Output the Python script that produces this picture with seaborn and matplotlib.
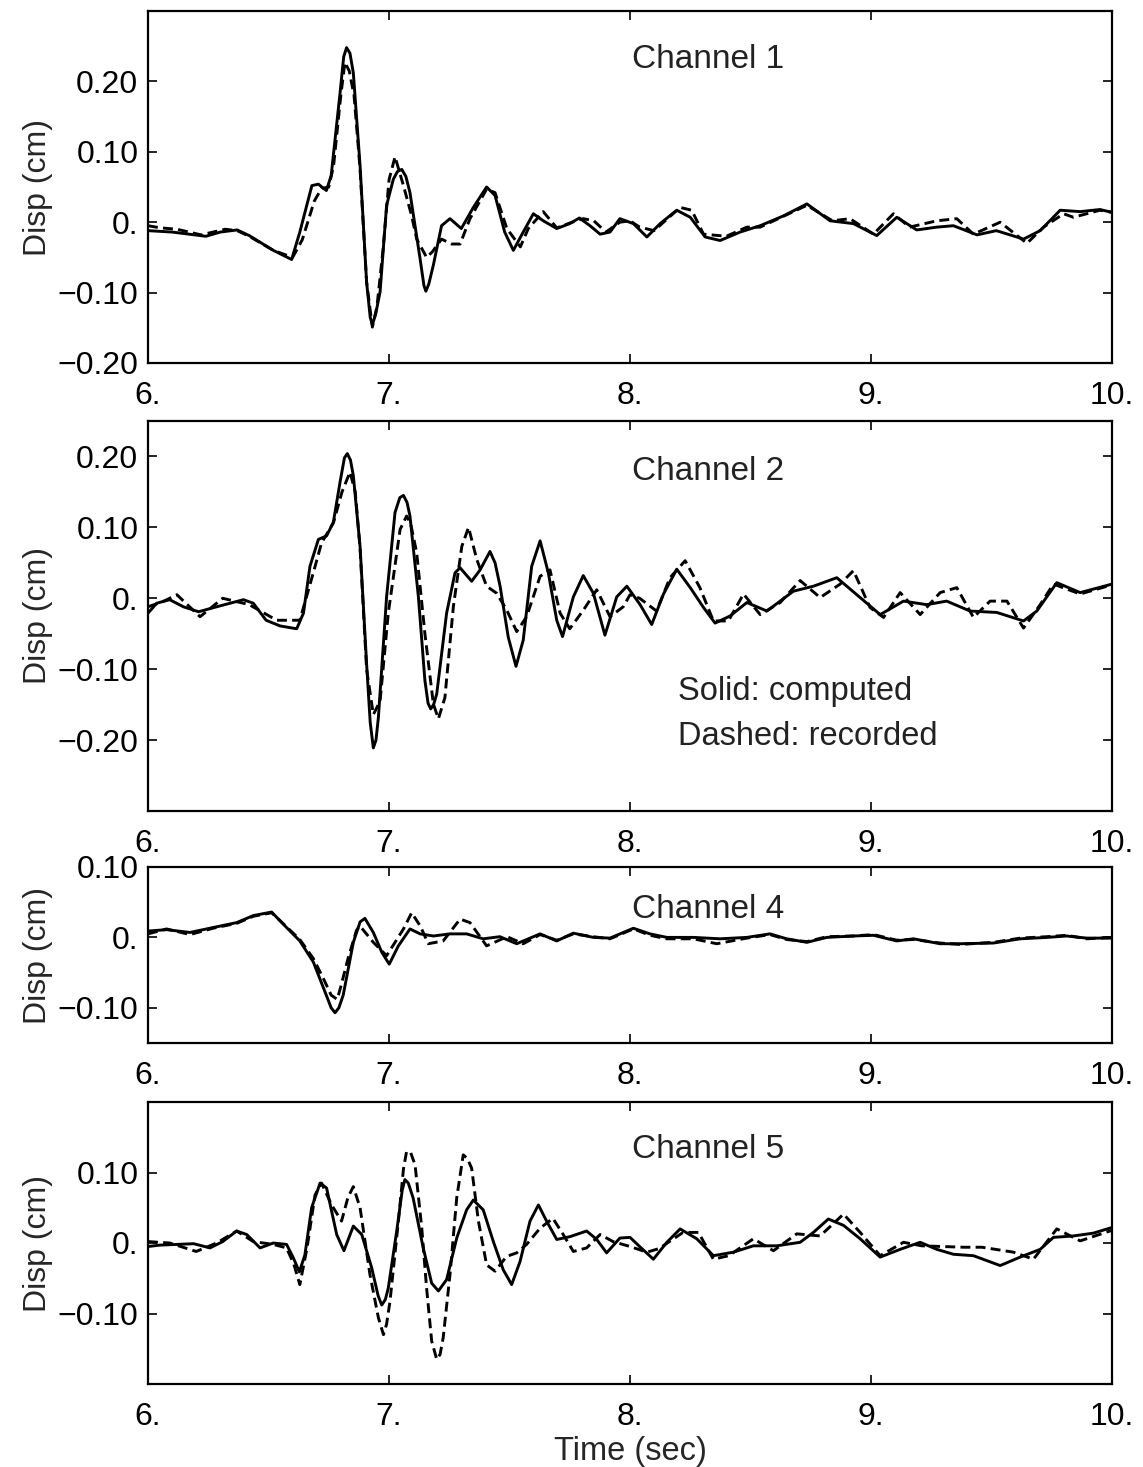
import numpy as np
import pandas as pd
import matplotlib
matplotlib.use("Agg")
import matplotlib.pyplot as plt
import seaborn as sns

ch1_t_comp = [6.00, 6.10, 6.24, 6.30, 6.37, 6.42, 6.52, 6.596, 6.63, 6.68, 6.707, 6.74, 6.76, 6.797, 6.812,
              6.824, 6.838, 6.852, 6.88, 6.907, 6.922, 6.931, 6.945, 6.963, 6.99, 7.018, 7.035, 7.053, 7.07,
              7.087, 7.129, 7.145, 7.153, 7.165, 7.184, 7.218, 7.253, 7.30, 7.35, 7.405, 7.44, 7.48, 7.516,
              7.557, 7.599, 7.64, 7.696, 7.75, 7.79, 7.834, 7.876, 7.917, 7.958, 8.014, 8.07, 8.125, 8.194,
              8.25, 8.312, 8.374, 8.457, 8.54, 8.637, 8.734, 8.83, 8.927, 9.024, 9.107, 9.19, 9.273, 9.342,
              9.44, 9.52, 9.633, 9.702, 9.785, 9.868, 9.95, 10.0]
ch1_comp = [-0.012, -0.014, -0.020, -0.014, -0.011, -0.019, -0.040, -0.053, -0.014, 0.052, 0.054, 0.045, 0.066,
            0.184, 0.235, 0.248, 0.240, 0.212, 0.080, -0.085, -0.135, -0.146, -0.130, -0.099, 0.024, 0.061,
            0.072, 0.075, 0.065, 0.042, -0.052, -0.090, -0.098, -0.088, -0.061, -0.005, 0.005, -0.009, 0.021,
            0.050, 0.038, -0.014, -0.040, -0.014, 0.012, 0.002, -0.009, -0.002, 0.006, -0.005, -0.017, -0.014,
            0.005, -0.002, -0.021, -0.002, 0.017, 0.007, -0.021, -0.026, -0.014, -0.005, 0.009, 0.026, 0.002,
            -0.002, -0.019, 0.007, -0.011, -0.007, -0.005, -0.018, -0.012, -0.024, -0.012, 0.017, 0.015, 0.018,
            0.014]
ch1_t_rec = [6.00, 6.05, 6.12, 6.22, 6.32, 6.37, 6.42, 6.52, 6.60, 6.64, 6.69, 6.72, 6.75, 6.77, 6.80, 6.817,
             6.835, 6.855, 6.88, 6.907, 6.931, 6.95, 6.975, 7.00, 7.025, 7.06, 7.094, 7.115, 7.156, 7.18,
             7.218, 7.26, 7.295, 7.336, 7.405, 7.44, 7.489, 7.545, 7.578, 7.64, 7.696, 7.76, 7.806, 7.85,
             7.90, 7.958, 8.00, 8.04, 8.10, 8.208, 8.256, 8.305, 8.40, 8.485, 8.54, 8.734, 8.84, 8.913, 9.01,
             9.093, 9.16, 9.273, 9.356, 9.425, 9.536, 9.647, 9.716, 9.799, 9.84, 9.95, 10.0]
ch1_rec = [-0.005, -0.008, -0.010, -0.018, -0.010, -0.012, -0.020, -0.040, -0.050, -0.025, 0.030, 0.048, 0.050,
           0.080, 0.180, 0.227, 0.215, 0.180, 0.075, -0.085, -0.149, -0.120, -0.040, 0.060, 0.093, 0.052, 0.009,
           -0.024, -0.050, -0.042, -0.024, -0.031, -0.031, 0.005, 0.047, 0.042, -0.009, -0.035, -0.009, 0.015,
           -0.008, 0.000, 0.005, 0.002, -0.014, 0.000, 0.002, -0.007, -0.012, 0.021, 0.017, -0.017, -0.020,
           -0.007, -0.007, 0.024, 0.002, 0.005, -0.017, 0.012, -0.007, 0.002, 0.005, -0.017, 0.000, -0.030,
           -0.007, 0.012, 0.007, 0.017, 0.014]

ch2_t_comp = [6.00, 6.036, 6.09, 6.147, 6.21, 6.285, 6.396, 6.437, 6.49, 6.548, 6.617, 6.645, 6.672, 6.707,
              6.741, 6.769, 6.797, 6.815, 6.827, 6.84, 6.852, 6.88, 6.907, 6.922, 6.935, 6.946, 6.956, 6.99,
              7.025, 7.045, 7.06, 7.075, 7.087, 7.122, 7.149, 7.162, 7.173, 7.185, 7.198, 7.239, 7.274, 7.295,
              7.343, 7.378, 7.419, 7.44, 7.461, 7.495, 7.527, 7.557, 7.592, 7.627, 7.661, 7.696, 7.72, 7.765,
              7.806, 7.848, 7.896, 7.945, 7.987, 8.042, 8.09, 8.139, 8.194, 8.25, 8.305, 8.353, 8.415, 8.485,
              8.568, 8.678, 8.761, 8.858, 8.955, 9.038, 9.135, 9.231, 9.314, 9.411, 9.522, 9.633, 9.688, 9.771,
              9.868, 10.0]
ch2_comp = [-0.021, -0.007, -0.002, -0.012, -0.019, -0.012, -0.002, -0.007, -0.031, -0.039, -0.043, -0.021,
            0.045, 0.083, 0.088, 0.107, 0.164, 0.198, 0.204, 0.195, 0.173, 0.073, -0.092, -0.175, -0.211,
            -0.200, -0.168, 0.002, 0.121, 0.142, 0.145, 0.135, 0.116, 0.002, -0.116, -0.148, -0.156, -0.150,
            -0.135, -0.021, 0.036, 0.043, 0.024, 0.040, 0.066, 0.050, 0.017, -0.055, -0.096, -0.059, 0.045,
            0.081, 0.036, -0.031, -0.054, 0.002, 0.032, 0.007, -0.052, 0.002, 0.017, -0.009, -0.037, 0.006,
            0.041, 0.015, -0.013, -0.035, -0.025, -0.006, -0.018, 0.010, 0.017, 0.029, 0.001, -0.023, -0.004,
            -0.009, -0.004, -0.018, -0.020, -0.032, -0.018, 0.022, 0.008, 0.020]
ch2_t_rec = [6.00, 6.06, 6.12, 6.216, 6.31, 6.42, 6.534, 6.63, 6.686, 6.72, 6.77, 6.805, 6.838, 6.86, 6.88,
             6.907, 6.935, 6.963, 6.997, 7.046, 7.073, 7.09, 7.115, 7.149, 7.184, 7.205, 7.232, 7.267, 7.302,
             7.33, 7.364, 7.405, 7.447, 7.489, 7.53, 7.571, 7.627, 7.668, 7.71, 7.75, 7.806, 7.862, 7.917,
             7.972, 8.00, 8.04, 8.11, 8.166, 8.229, 8.29, 8.346, 8.408, 8.471, 8.54, 8.623, 8.706, 8.789,
             8.872, 8.927, 8.996, 9.052, 9.121, 9.204, 9.287, 9.356, 9.425, 9.494, 9.564, 9.633, 9.702, 9.757,
             9.868, 10.0]
ch2_rec = [-0.012, -0.005, 0.005, -0.026, 0.000, -0.009, -0.031, -0.031, 0.036, 0.078, 0.107, 0.150, 0.178,
           0.150, 0.070, -0.100, -0.164, -0.145, -0.021, 0.097, 0.116, 0.105, 0.064, -0.050, -0.149, -0.170,
           -0.140, -0.012, 0.073, 0.100, 0.055, 0.017, 0.007, -0.017, -0.047, -0.026, 0.031, 0.040, -0.021,
           -0.043, -0.017, 0.012, -0.026, -0.012, 0.005, 0.000, -0.018, 0.029, 0.053, 0.015, -0.032, -0.032,
           0.006, -0.023, -0.006, 0.025, 0.001, 0.020, 0.039, -0.013, -0.027, 0.008, -0.023, 0.008, 0.015,
           -0.027, -0.004, -0.004, -0.042, -0.009, 0.020, 0.006, 0.019]

ch4_t_comp = [6.00, 6.077, 6.174, 6.27, 6.368, 6.437, 6.513, 6.575, 6.63, 6.686, 6.734, 6.76, 6.776, 6.792,
              6.81, 6.852, 6.88, 6.90, 6.935, 6.97, 7.001, 7.039, 7.087, 7.129, 7.184, 7.253, 7.322, 7.391,
              7.46, 7.53, 7.627, 7.696, 7.765, 7.848, 7.917, 8.014, 8.083, 8.153, 8.263, 8.374, 8.485, 8.581,
              8.65, 8.734, 8.817, 8.927, 9.01, 9.107, 9.176, 9.287, 9.37, 9.508, 9.619, 9.73, 9.812, 9.895, 10.0]
ch4_comp = [0.009, 0.011, 0.007, 0.014, 0.021, 0.031, 0.036, 0.014, -0.005, -0.035, -0.077, -0.100, -0.107,
            -0.100, -0.082, -0.007, 0.022, 0.027, 0.007, -0.021, -0.038, -0.012, 0.012, 0.005, 0.002, 0.005,
            0.005, -0.002, 0.001, -0.009, 0.005, -0.005, 0.006, 0.000, -0.001, 0.013, 0.005, 0.000, 0.000,
            -0.002, 0.000, 0.005, -0.002, -0.007, 0.000, 0.002, 0.003, -0.005, -0.002, -0.009, -0.009, -0.008,
            -0.002, 0.000, 0.002, -0.001, -0.001]
ch4_t_rec = [6.00, 6.077, 6.174, 6.27, 6.368, 6.437, 6.513, 6.575, 6.63, 6.686, 6.73, 6.76, 6.785, 6.80, 6.83,
             6.865, 6.88, 6.935, 6.99, 7.06, 7.094, 7.13, 7.163, 7.225, 7.295, 7.336, 7.405, 7.49, 7.557,
             7.627, 7.696, 7.765, 7.848, 7.917, 8.014, 8.083, 8.153, 8.263, 8.36, 8.485, 8.581, 8.65, 8.734,
             8.817, 8.927, 9.01, 9.107, 9.176, 9.287, 9.37, 9.508, 9.619, 9.73, 9.812, 9.895, 10.0]
ch4_rec = [0.005, 0.012, 0.004, 0.013, 0.020, 0.030, 0.035, 0.015, -0.003, -0.030, -0.060, -0.082, -0.088,
           -0.070, -0.030, 0.010, 0.016, -0.007, -0.026, 0.012, 0.035, 0.016, -0.009, -0.005, 0.026, 0.021,
           -0.012, 0.001, -0.009, 0.004, -0.004, 0.005, 0.001, -0.002, 0.012, 0.003, -0.002, -0.002, -0.009,
           -0.001, 0.004, -0.003, -0.006, 0.001, 0.002, 0.004, -0.004, -0.003, -0.008, -0.010, -0.007, -0.001,
           0.001, 0.003, -0.002, 0.000]

ch5_t_comp = [6.00, 6.05, 6.12, 6.19, 6.257, 6.31, 6.368, 6.41, 6.465, 6.52, 6.575, 6.603, 6.628, 6.651,
              6.679, 6.714, 6.741, 6.783, 6.813, 6.852, 6.887, 6.928, 6.955, 6.97, 6.985, 6.997, 7.032, 7.055,
              7.066, 7.08, 7.10, 7.142, 7.177, 7.205, 7.239, 7.281, 7.322, 7.35, 7.391, 7.433, 7.474, 7.509,
              7.544, 7.585, 7.62, 7.654, 7.696, 7.751, 7.82, 7.862, 7.903, 7.958, 8.00, 8.04, 8.097, 8.153,
              8.208, 8.277, 8.346, 8.429, 8.512, 8.609, 8.706, 8.761, 8.823, 8.886, 8.955, 9.038, 9.121, 9.204,
              9.273, 9.342, 9.425, 9.536, 9.619, 9.702, 9.757, 9.84, 9.923, 10.0]
ch5_comp = [-0.005, -0.003, -0.002, -0.001, -0.007, 0.002, 0.017, 0.012, -0.007, 0.000, -0.002, -0.021, -0.041,
            -0.017, 0.050, 0.085, 0.078, 0.012, -0.011, 0.024, 0.012, -0.035, -0.075, -0.088, -0.080, -0.064,
            0.017, 0.075, 0.090, 0.085, 0.064, -0.007, -0.057, -0.068, -0.052, 0.007, 0.047, 0.061, 0.047,
            0.002, -0.038, -0.059, -0.026, 0.031, 0.054, 0.031, 0.005, 0.009, 0.017, 0.005, -0.014, 0.007,
            0.008, -0.005, -0.023, 0.001, 0.020, 0.006, -0.018, -0.013, -0.004, -0.004, 0.001, 0.015, 0.034,
            0.025, 0.006, -0.020, -0.009, 0.001, -0.009, -0.016, -0.018, -0.032, -0.020, -0.009, 0.008, 0.010,
            0.014, 0.022]
ch5_t_rec = [6.00, 6.09, 6.20, 6.285, 6.368, 6.437, 6.52, 6.575, 6.605, 6.63, 6.66, 6.693, 6.72, 6.762, 6.803,
             6.83, 6.852, 6.88, 6.921, 6.956, 6.977, 6.99, 7.004, 7.039, 7.06, 7.073, 7.09, 7.108, 7.136, 7.156,
             7.177, 7.198, 7.212, 7.225, 7.253, 7.281, 7.308, 7.325, 7.343, 7.371, 7.405, 7.44, 7.488, 7.53,
             7.571, 7.627, 7.68, 7.723, 7.765, 7.82, 7.876, 7.93, 8.00, 8.07, 8.12, 8.22, 8.284, 8.346, 8.41,
             8.512, 8.595, 8.692, 8.789, 8.886, 8.955, 9.038, 9.135, 9.21, 9.384, 9.46, 9.591, 9.674, 9.771,
             9.868, 10.0]
ch5_rec = [0.002, 0.000, -0.012, 0.000, 0.017, 0.002, -0.002, -0.007, -0.030, -0.059, -0.007, 0.068, 0.085,
           0.054, 0.031, 0.065, 0.080, 0.050, -0.045, -0.106, -0.130, -0.115, -0.083, 0.031, 0.105, 0.130,
           0.128, 0.111, 0.021, -0.064, -0.139, -0.165, -0.158, -0.134, -0.045, 0.064, 0.125, 0.120, 0.106,
           0.031, -0.031, -0.040, -0.019, -0.014, -0.002, 0.021, 0.035, 0.012, -0.012, -0.007, 0.012, 0.002,
           -0.005, -0.013, -0.008, 0.015, 0.015, -0.023, -0.018, 0.006, -0.011, 0.013, 0.010, 0.041, 0.015,
           -0.018, 0.001, -0.004, -0.006, -0.006, -0.013, -0.023, 0.020, 0.003, 0.018]

channel_names = ["Channel 1", "Channel 2", "Channel 4", "Channel 5"]
time_ticks = [6, 7, 8, 9, 10]


def tick_text(v):
    if abs(v) < 1e-9:
        return "0."
    return f"{v:.2f}".replace("-", "\u2212")


def trace_frame(t_c, v_c, t_r, v_r):
    a = pd.DataFrame({"t": t_c, "disp": v_c, "kind": "computed"})
    b = pd.DataFrame({"t": t_r, "disp": v_r, "kind": "recorded"})
    return pd.concat([b, a], ignore_index=True)


sns.set_theme(style="ticks")
plt.rcParams["font.family"] = ["Liberation Sans", "DejaVu Sans"]
plt.rcParams["font.size"] = 23

W, H = 1143, 1467
fig = plt.figure(figsize=(W / 100, H / 100), dpi=100)

# pixel boxes of the four panels (top, bottom)
boxes = [(11, 363), (421, 811), (867, 1043), (1102, 1384)]
ylims = [(-0.20, 0.30), (-0.30, 0.25), (-0.15, 0.10), (-0.20, 0.20)]
yticks = [[-0.2, -0.1, 0, 0.1, 0.2], [-0.2, -0.1, 0, 0.1, 0.2], [-0.1, 0, 0.1], [-0.1, 0, 0.1]]
name_y = [0.231, 0.179, 0.040, 0.132]
traces = [
    trace_frame(ch1_t_comp, ch1_comp, ch1_t_rec, ch1_rec),
    trace_frame(ch2_t_comp, ch2_comp, ch2_t_rec, ch2_rec),
    trace_frame(ch4_t_comp, ch4_comp, ch4_t_rec, ch4_rec),
    trace_frame(ch5_t_comp, ch5_comp, ch5_t_rec, ch5_rec),
]

left, right = 148, 1112
for i, (top, bot) in enumerate(boxes):
    ax = fig.add_axes([left / W, 1 - bot / H, (right - left) / W, (bot - top) / H])
    sns.lineplot(data=traces[i], x="t", y="disp", style="kind",
                 dashes={"computed": "", "recorded": (3.4, 1.8)},
                 color="black", linewidth=2.1, estimator=None, sort=False,
                 legend=False, ax=ax)
    ax.set_xlim(6, 10)
    ax.set_ylim(*ylims[i])
    ax.set_xticks(time_ticks)
    ax.set_xticklabels([f"{t}." for t in time_ticks])
    ax.set_yticks(yticks[i])
    ax.set_yticklabels([tick_text(v) for v in yticks[i]])
    ax.tick_params(axis="both", direction="in", top=True, right=True,
                   length=6.5, width=1.2, colors="black", labelsize=23)
    ax.tick_params(axis="x", pad=13)
    ax.tick_params(axis="y", pad=7)
    for sp in ax.spines.values():
        sp.set_linewidth(1.6)
        sp.set_color("black")
    ax.set_ylabel("Disp (cm)", fontsize=23, labelpad=3)
    ax.set_xlabel("")
    ax.text(8.01, name_y[i], channel_names[i], fontsize=24, ha="left", va="center", color="#222222")
    if i == 1:
        ax.text(8.2, -0.132, "Solid: computed", fontsize=23.5, ha="left", va="center", color="#222222")
        ax.text(8.2, -0.195, "Dashed: recorded", fontsize=23.5, ha="left", va="center", color="#222222")
    if i == 3:
        ax.set_xlabel("Time (sec)", fontsize=23.5, labelpad=3)

fig.savefig("out.png", dpi=100, facecolor="white")
